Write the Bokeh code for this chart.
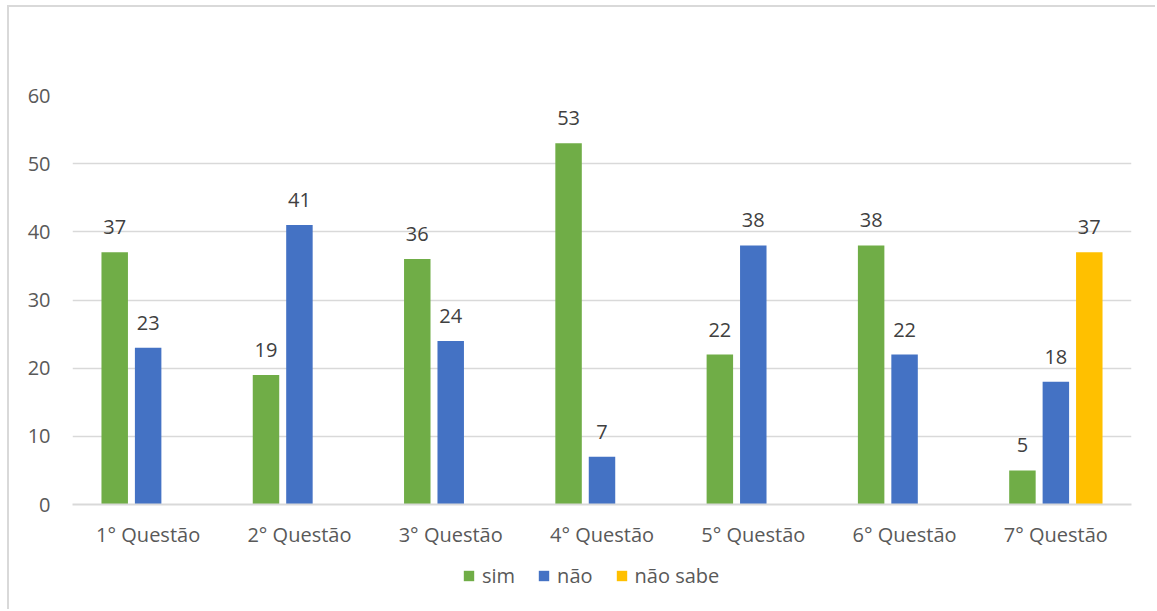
from bokeh.plotting import figure
from bokeh.layouts import column
from bokeh.models import (ColumnDataSource, FactorRange, Range1d, Legend, LegendItem,
                          FixedTicker)
from bokeh.transform import dodge
from bokeh.core.properties import value
from bokeh.embed import file_html
from bokeh.resources import INLINE

categories = ["1° Questão", "2° Questão", "3° Questão", "4° Questão",
              "5° Questão", "6° Questão", "7° Questão"]
sim = [37, 19, 36, 53, 22, 38, 5]
nao = [23, 41, 24, 7, 38, 22, 18]
nao_sabe = [None, None, None, None, None, None, 37]

series = [("sim", sim, "#70AD47", -0.221),
          ("não", nao, "#4472C4", 0.0),
          ("não sabe", nao_sabe, "#FFC000", 0.221)]

FONT = "Open Sans"
BORDER = "2px solid #d9d9d9"

p = figure(width=1148, height=545,
           x_range=FactorRange(*categories, range_padding=0),
           y_range=Range1d(0, 60), output_backend="svg", toolbar_location=None,
           min_border_left=63, min_border_right=26, min_border_top=88,
           min_border_bottom=48)
p.background_fill_color = "white"
p.border_fill_color = "white"
p.outline_line_color = None
p.margin = (5, 0, 0, 7)
p.styles = {"border-left": BORDER, "border-top": BORDER}

# legend strip under the chart; it shares the category axis but its
# y-range sits above every bar, so only the legend shows there
leg = figure(width=1148, height=59, x_range=p.x_range, y_range=Range1d(100, 101),
             output_backend="svg", toolbar_location=None,
             min_border_left=63, min_border_right=26, min_border_top=0,
             min_border_bottom=0)
leg.axis.visible = False
leg.grid.visible = False
leg.outline_line_color = None
leg.margin = (0, 0, 0, 7)
leg.styles = {"border-left": BORDER}

items = []
for name, vals, color, off in series:
    xs = [c for c, v in zip(categories, vals) if v is not None]
    ys = [v for v in vals if v is not None]
    src = ColumnDataSource(dict(x=xs, top=ys, lbl=[str(v) for v in ys]))
    p.vbar(x=dodge("x", off, range=p.x_range), top="top", width=0.175,
           source=src, fill_color=color, line_color=None)
    p.text(x=dodge("x", off, range=p.x_range), y="top", text="lbl", source=src,
           text_align="center", text_baseline="alphabetic", y_offset=-25,
           text_font=value(FONT), text_font_size="20px", text_color="#404040")
    r = leg.vbar(x=dodge("x", off, range=p.x_range), top="top", width=0.175,
                 source=src, fill_color=color, line_color=None)
    items.append(LegendItem(label=name, renderers=[r]))

# axes
p.yaxis.ticker = FixedTicker(ticks=[0, 10, 20, 30, 40, 50, 60])
p.yaxis.axis_line_color = None
p.yaxis.major_tick_line_color = None
p.yaxis.minor_tick_line_color = None
p.yaxis.major_label_standoff = 16
p.yaxis.major_label_text_font = FONT
p.yaxis.major_label_text_font_size = "20px"
p.yaxis.major_label_text_color = "#595959"

p.xaxis.axis_line_color = "#d9d9d9"
p.xaxis.axis_line_width = 2
p.xaxis.major_tick_line_color = None
p.xaxis.minor_tick_line_color = None
p.xaxis.major_label_standoff = 10
p.xaxis.major_label_text_font = FONT
p.xaxis.major_label_text_font_size = "20px"
p.xaxis.major_label_text_color = "#595959"

p.xgrid.grid_line_color = None
p.ygrid.grid_line_color = "#d9d9d9"
p.ygrid.grid_line_width = 1.5

legend = Legend(items=items, orientation="horizontal", location=(390, 20),
                label_text_font=FONT, label_text_font_size="20px",
                label_text_color="#595959", glyph_width=13, glyph_height=13,
                spacing=22, label_standoff=7, padding=0, margin=0,
                border_line_color=None, background_fill_alpha=0)
leg.add_layout(legend)

layout = column(p, leg, spacing=0)
open("out.html", "w").write(file_html(layout, INLINE))
